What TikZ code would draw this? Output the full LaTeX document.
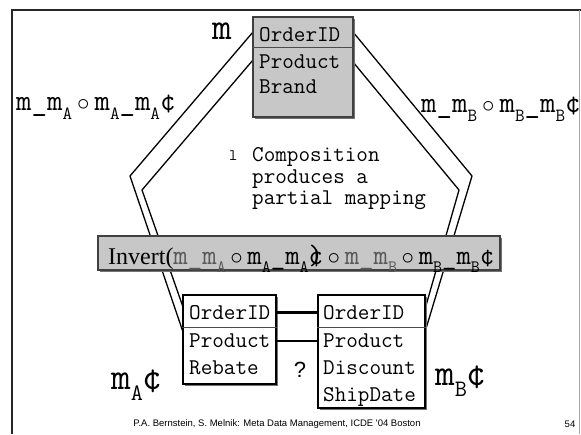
\documentclass[tikz,border=0pt]{standalone}
\usepackage{fontspec}
\usepackage{graphicx}
\setmainfont{Liberation Serif}
\setmonofont{Latin Modern Mono}
\newfontfamily\sansf{Liberation Sans}
\usetikzlibrary{shadows}

% lowered, reduced subscript letter and the composition circle
\newcommand\lowsub[1]{\raisebox{-0.3em}{\scalebox{0.62}{#1}}}
\newcommand\compo{\,$\circ$\,}

\begin{document}
\begin{tikzpicture}[x=1pt,y=-1pt,
  frame/.style={line width=2.4pt, black!85},
  band/.style={line width=1.3pt, black},
  tbl/.style={draw=black, line width=1.2pt, fill=white, inner sep=0pt,
    drop shadow={shadow xshift=1.5pt, shadow yshift=-1.5pt, opacity=1, fill=black!55}},
  graybox/.style={tbl, fill=black!22, draw=black!75},
  fld/.style={font=\ttfamily\fontsize{22.5}{22.5}\selectfont, anchor=base west,
    inner sep=0pt, text height=13pt, text depth=0pt},
  rowsep/.style={line width=0.9pt, black!70},
  link/.style={line width=2.2pt},
  lbl/.style={anchor=base west, inner sep=0pt}]
\useasboundingbox (0,0) rectangle (581,434);

% slide frame
\draw[frame] (581,10) -- (12,10) -- (12,434);
\draw[black!35, line width=0.6pt] (579,10) -- (579,434);

% the two mapping bands (drawn first, boxes sit on top)
\coordinate (lo1) at (253,32);  \coordinate (lo2) at (130,176); \coordinate (lo3) at (183,332);
\coordinate (li1) at (253,60);  \coordinate (li2) at (142,190); \coordinate (li3) at (183,307);
\coordinate (ro1) at (353,32);  \coordinate (ro2) at (472,176); \coordinate (ro3) at (425,332);
\coordinate (ri1) at (353,62);  \coordinate (ri2) at (459,190); \coordinate (ri3) at (425,309);
\draw[band] (lo1) -- (lo2) -- (lo3);
\draw[band] (li1) -- (li2) -- (li3);
\draw[band] (ro1) -- (ro2) -- (ro3);
\draw[band] (ri1) -- (ri2) -- (ri3);

% Invert bar
\node[graybox, minimum width=402, minimum height=34] (bar) at (299,253) {};
\node[anchor=base west, inner sep=0pt] (inv) at (108,264)
  {{\fontsize{24}{24}\selectfont Invert(}{\ttfamily\fontsize{28}{28}\selectfont
   \textcolor{black!65}{m\_m\lowsub{A}}\compo m\lowsub{A}\_m\lowsub{A}\rlap{¢})\compo
   \textcolor{black!65}{m\_m\lowsub{B}}\compo m\lowsub{B}\_m\lowsub{B}¢}};

% top schema m
\node[graybox, minimum width=100, minimum height=100] (mBox) at (303,67) {};
\draw[rowsep] (mBox.west |- 0,47) -- (mBox.east |- 0,47);
\node[fld] (mOrd)  at (259,41) {OrderID};
\node[fld] (mProd) at (259,68) {Product};
\node[fld] (mBr)   at (259,93) {Brand};

% schema m_A'
\node[tbl, minimum width=93, minimum height=89] (aBox) at (229.5,339.5) {};
\draw[rowsep] (aBox.west |- 0,327) -- (aBox.east |- 0,327);
\node[fld] (aOrd)  at (189,319) {OrderID};
\node[fld] (aProd) at (189,347.5) {Product};
\node[fld] (aReb)  at (189,374) {Rebate};

% schema m_B'
\node[tbl, minimum width=107, minimum height=113] (bBox) at (371.5,351.5) {};
\draw[rowsep] (bBox.west |- 0,327) -- (bBox.east |- 0,327);
\node[fld] (bOrd)  at (323,319) {OrderID};
\node[fld] (bProd) at (323,347.5) {Product};
\node[fld] (bDisc) at (323,374) {Discount};
\node[fld] (bShip) at (323,401) {ShipDate};

% field correspondences
\draw[link] (aBox.east |- aOrd) -- (bBox.west |- bOrd);
\draw[link] (aBox.east |- aProd) -- (bBox.west |- bProd);

% mapping labels
\node[lbl, font=\ttfamily\fontsize{38}{38}\selectfont] (mName) at (212,39) {m};
\node[lbl, font=\ttfamily\fontsize{30}{30}\selectfont] (leftExpr) at (16,110.5)
  {m\_m\lowsub{A}\compo m\lowsub{A}\_m\lowsub{A}¢};
\node[lbl, font=\ttfamily\fontsize{30}{30}\selectfont] (rightExpr) at (421,112)
  {m\_m\lowsub{B}\compo m\lowsub{B}\_m\lowsub{B}¢};
\node[lbl, font=\ttfamily\fontsize{38}{38}\selectfont] (aName) at (111,389) {m\lowsub{A}¢};
\node[lbl, font=\ttfamily\fontsize{38}{38}\selectfont] (bName) at (435,385) {m\lowsub{B}¢};
\node[font=\sansf\fontsize{22}{22}\selectfont, inner sep=0pt] (qm) at (300,370) {?};

% remark
\node[lbl, font=\ttfamily\fontsize{16}{16}\selectfont] (bul) at (229,160) {l};
\node[lbl, font=\ttfamily\fontsize{22.5}{22.5}\selectfont] (t1) at (252,161) {Composition};
\node[lbl, font=\ttfamily\fontsize{22.5}{22.5}\selectfont] (t2) at (252,183) {produces a};
\node[lbl, font=\ttfamily\fontsize{22.5}{22.5}\selectfont] (t3) at (252,204) {partial mapping};

% footer
\node[font=\sansf\fontsize{9.5}{9.5}\selectfont, inner sep=0pt] (foot) at (277,424)
  {P.A. Bernstein, S. Melnik: Meta Data Management, ICDE '04 Boston};
\node[font=\sansf\fontsize{9.5}{9.5}\selectfont, inner sep=0pt] (pg) at (570,424) {54};
\end{tikzpicture}
\end{document}
